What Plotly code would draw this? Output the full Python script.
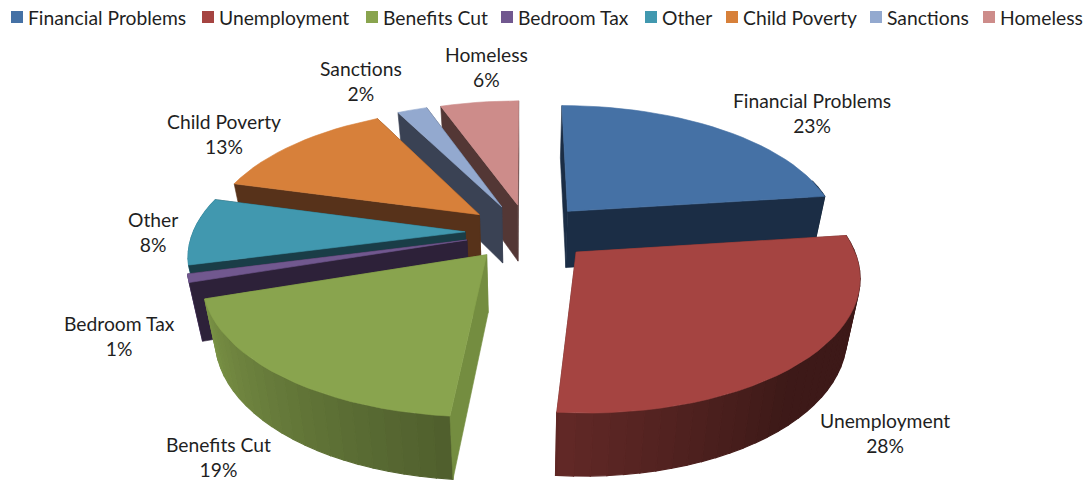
import numpy as np
import plotly.graph_objects as go

categories = ["Financial Problems", "Unemployment", "Benefits Cut", "Bedroom Tax",
              "Other", "Child Poverty", "Sanctions", "Homeless"]
values = [23.0, 28.4, 18.6, 1.0, 8.2, 13.2, 2.1, 5.5]

top_colors = ["#4571A5", "#A54441", "#89A44E", "#71588F", "#4198AF", "#D7803A", "#93A9CF", "#CD8C8A"]
cut_colors = ["#1B2D45", "#5E2623", "#748D40", "#2D2139", "#1A3D47", "#57321A", "#3A4254", "#533735"]

# layout of the text (page pixels)
label_pos = [(812, 113), (885, 433), (218, 457), (119, 336), (153, 232), (224, 134), (361, 81), (486, 67)]
legend_x = [17, 208, 372, 507, 651, 732, 876, 989]
LEGEND_Y = 17
FONT = "Lato"
TEXT_SIZE = 19.3
TEXT_COLOR = "#1f1f1f"

# projection of the tilted, perspective pie
CX, CY, RX, RY, PERS, DEPTH, TAPER, EXPLODE = 525, 232, 272, 128.5, 0.158, 57, 0.04, 0.22
explode_dx = [0.015, 0.025, 0, 0, 0, 0, 0, 0.01]


def project(X, Y, Z=0.0):
    p = 1 / (1 - PERS * Y)
    return CX + RX * X * p * (1 - TAPER * Z), CY + RY * Y * p + DEPTH * Z * np.sqrt(p)


def rim_factor(deg):
    if deg >= 184:
        return 0.57 + min(deg - 184, 68) / 68 * 0.32
    return 0.37 + max(deg - 140, 0) / 44 * 0.22


def shade(hex_color, f):
    r, g, b = (int(hex_color[i:i + 2], 16) for i in (1, 3, 5))
    return f"rgb({r * f:.0f},{g * f:.0f},{b * f:.0f})"


def poly(points, color, lw=0.6):
    xs = [q[0] for q in points] + [points[0][0]]
    ys = [q[1] for q in points] + [points[0][1]]
    return go.Scatter(x=xs, y=ys, mode="lines", fill="toself", fillcolor=color,
                      line=dict(color=color, width=lw), showlegend=False, hoverinfo="skip")


fig = go.Figure()
cum = np.cumsum([0] + values) / sum(values) * 360
order = sorted(range(len(values)), key=lambda i: -np.cos(np.radians((cum[i] + cum[i + 1]) / 2)))
for i in order:
    a0, a1 = cum[i], cum[i + 1]
    mid = np.radians((a0 + a1) / 2)
    ax, ay = EXPLODE * np.sin(mid) + explode_dx[i], -EXPLODE * np.cos(mid)
    degs = np.arange(a0, a1 + 3, 3.0)
    degs[-1] = a1
    rim = [(ax + np.sin(np.radians(d)), ay - np.cos(np.radians(d))) for d in degs]

    def cut(q):
        return poly([project(ax, ay), project(*q), project(*q, 1), project(ax, ay, 1)], cut_colors[i])

    start_front = np.sin(np.radians(a0)) < -1e-9
    end_front = np.sin(np.radians(a1)) > 1e-9
    # back-facing cut faces, then outer wall, then front-facing cut faces, then the top
    if not start_front:
        fig.add_trace(cut(rim[0]))
    if not end_front:
        fig.add_trace(cut(rim[-1]))
    for j in range(len(rim) - 1):
        d = (degs[j] + degs[j + 1]) / 2
        if 75 < d < 285:
            fig.add_trace(poly([project(*rim[j]), project(*rim[j + 1]), project(*rim[j + 1], 1), project(*rim[j], 1)],
                               shade(top_colors[i], rim_factor(d)), lw=1.2))
    if start_front:
        fig.add_trace(cut(rim[0]))
    if end_front:
        fig.add_trace(cut(rim[-1]))
    fig.add_trace(poly([project(ax, ay)] + [project(*q) for q in rim], top_colors[i]))

for x, name, color in zip(legend_x, categories, top_colors):
    fig.add_trace(go.Scatter(x=[x], y=[LEGEND_Y], mode="markers",
                             marker=dict(symbol="square", size=12, color=color), showlegend=False,
                             hoverinfo="skip"))
    fig.add_annotation(x=x + 11, y=LEGEND_Y, text=name, showarrow=False, xanchor="left", yanchor="middle",
                       xshift=-2, font=dict(family=FONT, size=TEXT_SIZE, color=TEXT_COLOR))

for (x, y), name, v in zip(label_pos, categories, values):
    fig.add_annotation(x=x, y=y, text=f"{name}<br>{round(v)}%", showarrow=False, xanchor="center", yanchor="middle",
                       font=dict(family=FONT, size=TEXT_SIZE, color=TEXT_COLOR), align="center")

fig.update_layout(
    width=1090, height=480, margin=dict(l=0, r=0, t=0, b=0),
    paper_bgcolor="white", plot_bgcolor="white", showlegend=False,
    xaxis=dict(range=[0, 1090], visible=False, fixedrange=True),
    yaxis=dict(range=[480, 0], visible=False, fixedrange=True),
    font=dict(family=FONT, size=TEXT_SIZE, color=TEXT_COLOR),
)
fig.write_html("out.html", config=dict(displayModeBar=False),
               post_script="document.body.style.margin='0';document.body.style.overflow='hidden';")
